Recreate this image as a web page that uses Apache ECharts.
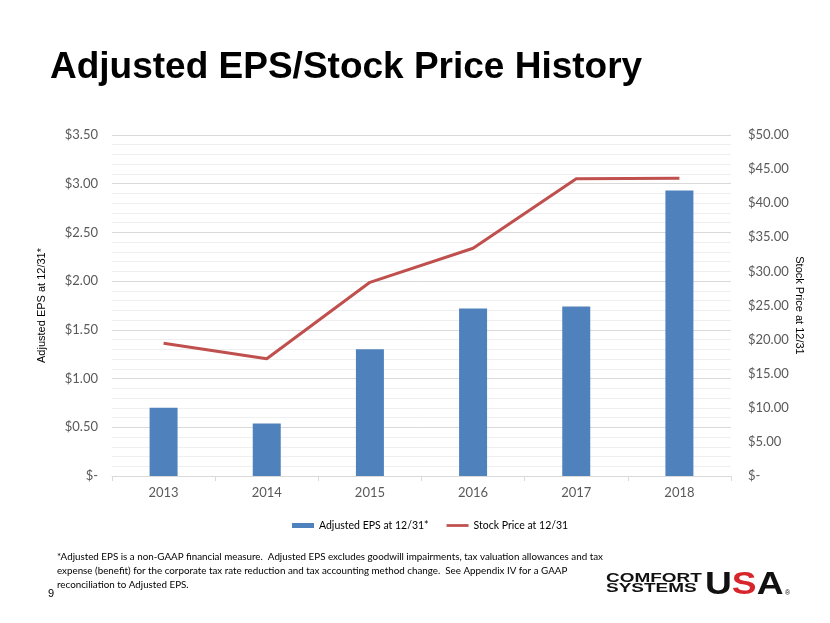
<!DOCTYPE html>
<html><head><meta charset="utf-8">
<script src="https://cdn.jsdelivr.net/npm/echarts@6/dist/echarts.min.js"></script>
<style>html,body{margin:0;padding:0;background:#fff}#c{width:830px;height:623px}</style>
</head><body><div id="c"></div>
<script>
const categories = ['2013','2014','2015','2016','2017','2018'];
const epsValues = [0.70, 0.54, 1.30, 1.72, 1.74, 2.93];
const priceValues = [19.45, 17.20, 28.40, 33.40, 43.60, 43.65];
const epsName = 'Adjusted EPS at 12/31*';
const priceName = 'Stock Price at 12/31';
const footnote = ['*Adjusted EPS is a non-GAAP financial measure.  Adjusted EPS excludes goodwill impairments, tax valuation allowances and tax',
 'expense (benefit) for the corporate tax rate reduction and tax accounting method change.  See Appendix IV for a GAAP',
 'reconciliation to Adjusted EPS.'];

const fmt = v => v === 0 ? '$-' : '$' + v.toFixed(2);
const lblFont = 'Lato, "Open Sans", sans-serif';
const arial = '"Liberation Sans", Arial, sans-serif';
const chart = echarts.init(document.getElementById('c'));
chart.setOption({
  animation: false,
  title: { text: 'Adjusted EPS/Stock Price History', left: 45, top: 44,
    textStyle: { fontFamily: arial, fontWeight: 'bold', fontSize: 37, color: '#000' } },
  grid: { left: 112, right: 99, top: 135, bottom: 147 },
  legend: { top: 515, left: 287, itemGap: 18, itemWidth: 22, itemHeight: 5,
    textStyle: { fontFamily: lblFont, fontSize: 10.5, color: '#000' },
    data: [{ name: epsName, icon: 'rect' }, { name: priceName, icon: 'path://M0,0h48v6h-48z' }] },
  xAxis: { type: 'category', data: categories,
    axisLine: { lineStyle: { color: '#d9d9d9' } },
    axisTick: { show: true, length: 5, lineStyle: { color: '#d9d9d9' } },
    axisLabel: { color: '#595959', fontFamily: lblFont, fontSize: 13, margin: 10 } },
  yAxis: [
    { type: 'value', min: 0, max: 3.5, interval: 0.5,
      name: 'Adjusted EPS at 12/31*', nameLocation: 'middle', nameGap: 65, nameRotate: 90,
      nameTextStyle: { fontFamily: arial, fontSize: 11, color: '#000' },
      axisLabel: { formatter: fmt, color: '#595959', fontFamily: lblFont, fontSize: 13, margin: 14 },
      splitLine: { lineStyle: { color: '#d9d9d9', width: 1 } },
      minorTick: { show: false, splitNumber: 5 },
      minorSplitLine: { show: true, lineStyle: { color: '#efefef', width: 1 } } },
    { type: 'value', min: 0, max: 50, interval: 5,
      name: 'Stock Price at 12/31', nameLocation: 'middle', nameGap: 63, nameRotate: -90,
      nameMoveOverlap: false,
      nameTextStyle: { fontFamily: arial, fontSize: 11, color: '#000' },
      axisLabel: { formatter: fmt, color: '#595959', fontFamily: lblFont, fontSize: 13, margin: 17 },
      splitLine: { show: false } }
  ],
  series: [
    { name: epsName, type: 'bar', data: epsValues, yAxisIndex: 0, barWidth: 28,
      itemStyle: { color: '#4F81BD' } },
    { name: priceName, type: 'line', data: priceValues, yAxisIndex: 1, symbol: 'none',
      lineStyle: { color: '#C0504D', width: 3 }, itemStyle: { color: '#C0504D' } }
  ],
  graphic: [
    { type: 'text', left: 57, top: 550, style: { text: footnote.join('\n'), fontFamily: lblFont, fontSize: 9.8, lineHeight: 13.8, fill: '#000' } },
    { type: 'text', left: 48, top: 588, style: { text: '9', fontFamily: arial, fontSize: 11, fill: '#000' } },
    { type: 'text', x: 606, y: 574, scaleX: 1.58, scaleY: 1, style: { text: 'COMFORT\nSYSTEMS', fontFamily: arial, fontWeight: 'bold', fontSize: 12, lineHeight: 9.5, fill: '#111' } },
    { type: 'text', x: 705, y: 570, scaleX: 1.2, style: { text: '{a|U}{b|S}{a|A}', fontFamily: arial, fontWeight: 'bold', fontSize: 31,
        rich: { a: { fill: '#111', fontFamily: arial, fontWeight: 'bold', fontSize: 31 }, b: { fill: '#D7262B', fontFamily: arial, fontWeight: 'bold', fontSize: 31 } } } },
    { type: 'text', x: 785, y: 590, style: { text: '®', fontFamily: arial, fontSize: 7, fill: '#111' } }
  ]
});
</script></body></html>
